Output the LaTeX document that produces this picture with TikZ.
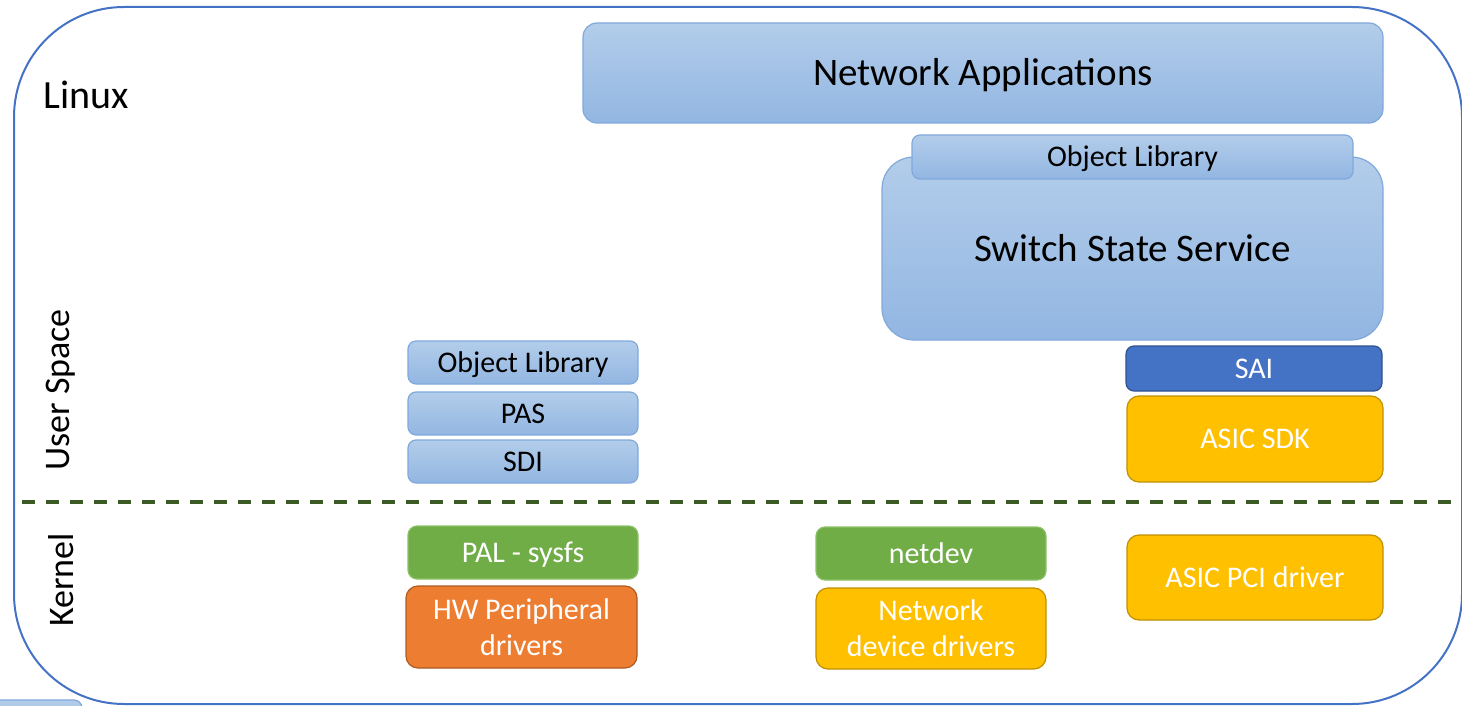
\documentclass[tikz,border=0pt]{standalone}
\usepackage{fontspec}
\setmainfont{Carlito}
\definecolor{frame}{HTML}{4472C4}
\definecolor{lbtop}{HTML}{B3CDEA}
\definecolor{lbbot}{HTML}{92B6E2}
\definecolor{lbline}{HTML}{80A9DB}
\definecolor{saifill}{HTML}{4472C4}
\definecolor{sailine}{HTML}{2F528F}
\definecolor{gold}{HTML}{FFC000}
\definecolor{goldline}{HTML}{BF9000}
\definecolor{orng}{HTML}{ED7D31}
\definecolor{orngline}{HTML}{AE5A21}
\definecolor{grn}{HTML}{70AD47}
\definecolor{grnline}{HTML}{8CC168}
\definecolor{sep}{HTML}{3B5A26}
\begin{document}
\begin{tikzpicture}[x=1pt,y=-1pt,
  box/.style={rounded corners=#1, inner sep=0pt, line width=1.2pt, align=center},
  box/.default=9pt,
  layer/.style={draw=lbline, top color=lbtop, bottom color=lbbot, text=black},
  sai/.style={draw=sailine, fill=saifill, text=white},
  yellowbox/.style={draw=goldline, fill=gold, text=white},
  orangebox/.style={draw=orngline, fill=orng, text=white},
  greenbox/.style={draw=grnline, fill=grn, text=white},
  big/.style={font=\fontsize{39}{47}\selectfont, text height=25pt, text depth=0pt},
  mid/.style={font=\fontsize{30}{36}\selectfont},
  oneline/.style={text height=19pt, text depth=0pt},
  side/.style={font=\fontsize{36}{43}\selectfont, rotate=90},
]
\useasboundingbox (0,0) rectangle (1462,706);

% outer Linux frame
\draw[frame, line width=2pt, rounded corners=110pt] (14,7) rectangle (1462,704);
% edge of a box below the frame
\draw[layer, line width=1.2pt, rounded corners=8pt] (-20,700) rectangle (82,740);

\node[font=\fontsize{40}{48}\selectfont, anchor=west] (linux) at (40,95) {Linux};
\node[side] (user) at (61,390) {User Space};
\node[side] (kernel) at (61,580) {Kernel};

% user space / kernel boundary
\coordinate (sepL) at (22,502);
\coordinate (sepR) at (1462,502);
\draw[sep, line width=3.5pt, dash pattern=on 13pt off 11pt] (sepL) -- (sepR);

% right column
\node[box=14pt, layer, big, minimum width=800pt, minimum height=100pt] (apps) at (983,73) {Network Applications};
\node[box=32pt, layer, big, minimum width=501pt, minimum height=183pt] (sss) at (1132.5,248.5) {Switch State Service};
\node[box=8pt, layer, mid, oneline, minimum width=441pt, minimum height=44pt] (objr) at (1132.5,157) {Object Library};
\node[box=8pt, sai, mid, oneline, minimum width=256pt, minimum height=45pt] (sai) at (1254,368.5) {SAI};
\node[box=12pt, yellowbox, mid, oneline, minimum width=256pt, minimum height=86pt] (sdk) at (1255,439) {ASIC SDK};
\node[box=12pt, yellowbox, mid, oneline, minimum width=256pt, minimum height=85pt] (pci) at (1255,577.5) {ASIC PCI driver};

% left column
\node[box=8pt, layer, mid, oneline, minimum width=230pt, minimum height=43pt] (objl) at (523,362.5) {Object Library};
\node[box=8pt, layer, mid, oneline, minimum width=230pt, minimum height=43pt] (pas) at (523,413.5) {PAS};
\node[box=8pt, layer, mid, oneline, minimum width=230pt, minimum height=43pt] (sdi) at (523,461.5) {SDI};
\node[box=9pt, greenbox, mid, oneline, minimum width=230pt, minimum height=53pt] (pal) at (523,552.5) {PAL - sysfs};
\node[box=12pt, orangebox, mid, minimum width=231pt, minimum height=82pt] (hw) at (521.5,627) {HW Peripheral\\drivers};

% middle column
\node[box=9pt, greenbox, mid, oneline, minimum width=230pt, minimum height=53pt] (netdev) at (931,553.5) {netdev};
\node[box=12pt, yellowbox, mid, minimum width=230pt, minimum height=81pt] (ndd) at (931,628.5) {Network\\device drivers};
\end{tikzpicture}
\end{document}
